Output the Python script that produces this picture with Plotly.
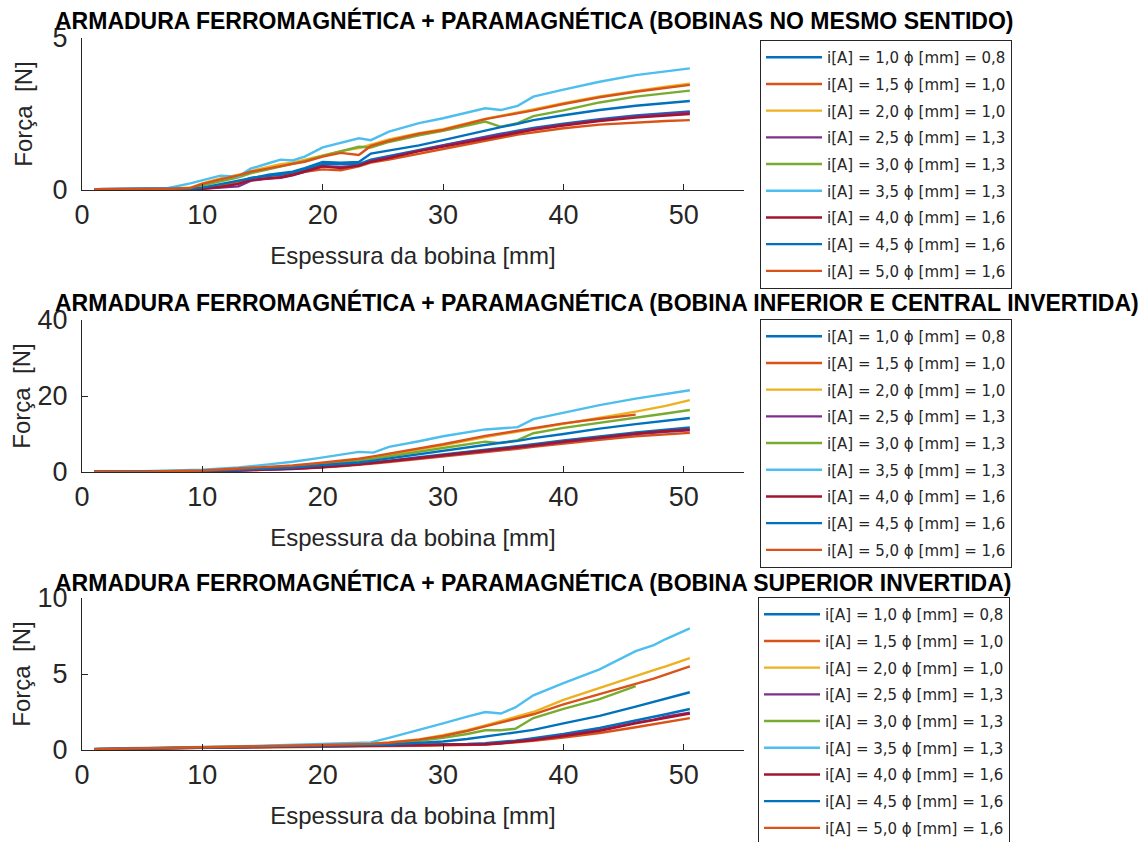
import plotly.graph_objects as go

# ---------------- data ----------------
LABELS = [
    "i[A] = 1,0 ϕ [mm] = 0,8",
    "i[A] = 1,5 ϕ [mm] = 1,0",
    "i[A] = 2,0 ϕ [mm] = 1,0",
    "i[A] = 2,5 ϕ [mm] = 1,3",
    "i[A] = 3,0 ϕ [mm] = 1,3",
    "i[A] = 3,5 ϕ [mm] = 1,3",
    "i[A] = 4,0 ϕ [mm] = 1,6",
    "i[A] = 4,5 ϕ [mm] = 1,6",
    "i[A] = 5,0 ϕ [mm] = 1,6",
]
COLORS = ["#0072BD", "#D95319", "#EDB120", "#7E2F8E", "#77AC30",
          "#4DBEEE", "#A2142F", "#0072BD", "#D95319"]

TITLES = [
    "ARMADURA FERROMAGNÉTICA + PARAMAGNÉTICA (BOBINAS NO MESMO SENTIDO)",
    "ARMADURA FERROMAGNÉTICA + PARAMAGNÉTICA (BOBINA INFERIOR E CENTRAL INVERTIDA)",
    "ARMADURA FERROMAGNÉTICA + PARAMAGNÉTICA (BOBINA SUPERIOR INVERTIDA)",
]
Y_RANGES = [[0, 5], [0, 40], [0, 10]]
Y_TICKS = [[0, 5], [0, 20, 40], [0, 5, 10]]
X_TICKS = [0, 10, 20, 30, 40, 50]

# coil thickness [mm] -- plot 1 (same direction)
X1 = [1, 4, 7, 9, 10, 11.5, 13, 14, 15.5, 16.5, 17.5, 18.5, 20, 21.5, 23, 24,
      25.5, 28, 30, 33.5, 34.8, 36.2, 37.5, 40, 43, 46, 48.5, 50.5]
F1_I10 = [0.03, 0.03, 0.03, 0.03, 0.05, 0.15, 0.25, 0.40, 0.45, 0.50, 0.55, 0.68, 0.85, 0.85,
          0.85, 1.00, 1.12, 1.30, 1.48, 1.76, 1.85, 1.95, 2.04, 2.18, 2.33, 2.45, 2.52, 2.58]
F1_I15 = [0.03, 0.03, 0.03, 0.03, 0.06, 0.15, 0.25, 0.33, 0.38, 0.42, 0.50, 0.60, 0.68, 0.65,
          0.78, 0.90, 1.00, 1.20, 1.35, 1.62, 1.72, 1.82, 1.90, 2.03, 2.15, 2.22, 2.27, 2.30]
F1_I20 = [0.03, 0.03, 0.03, 0.08, 0.22, 0.38, 0.50, 0.62, 0.75, 0.85, 0.90, 1.00, 1.15, 1.28,
          1.38, 1.50, 1.66, 1.87, 2.00, 2.34, 2.45, 2.55, 2.65, 2.86, 3.08, 3.26, 3.40, 3.50]
F1_I25 = [0.03, 0.03, 0.03, 0.03, 0.04, 0.08, 0.12, 0.30, 0.38, 0.40, 0.48, 0.60, 0.78, 0.76,
          0.80, 0.95, 1.08, 1.30, 1.46, 1.73, 1.82, 1.92, 2.01, 2.15, 2.30, 2.42, 2.50, 2.55]
F1_I30 = [0.03, 0.03, 0.03, 0.06, 0.15, 0.30, 0.42, 0.55, 0.68, 0.78, 0.85, 0.95, 1.12, 1.28,
          1.42, 1.40, 1.58, 1.80, 1.95, 2.25, 2.08, 2.20, 2.43, 2.62, 2.88, 3.07, 3.18, 3.27]
F1_I35 = [0.03, 0.03, 0.05, 0.22, 0.33, 0.47, 0.44, 0.70, 0.88, 1.00, 0.97, 1.10, 1.40, 1.56,
          1.70, 1.64, 1.92, 2.20, 2.36, 2.69, 2.63, 2.77, 3.07, 3.30, 3.56, 3.78, 3.90, 4.00]
F1_I40 = [0.03, 0.03, 0.03, 0.03, 0.04, 0.10, 0.20, 0.33, 0.38, 0.42, 0.50, 0.62, 0.78, 0.72,
          0.80, 0.93, 1.05, 1.28, 1.43, 1.70, 1.80, 1.90, 1.98, 2.12, 2.27, 2.38, 2.45, 2.50]
F1_I45 = [0.03, 0.03, 0.03, 0.04, 0.08, 0.20, 0.30, 0.40, 0.50, 0.55, 0.60, 0.72, 0.92, 0.90,
          0.92, 1.20, 1.30, 1.47, 1.64, 1.97, 2.07, 2.18, 2.30, 2.46, 2.63, 2.77, 2.86, 2.93]
F1_I50 = [0.03, 0.03, 0.03, 0.06, 0.20, 0.35, 0.48, 0.60, 0.72, 0.80, 0.86, 0.93, 1.10, 1.22,
          1.15, 1.45, 1.62, 1.85, 1.98, 2.33, 2.42, 2.52, 2.62, 2.83, 3.05, 3.23, 3.37, 3.46]

# plot 2 (lower and central coil reversed)
X2 = [1, 5, 10, 13, 15.5, 17.5, 19.5, 21.5, 23, 24.2, 25.5, 28, 30, 33.5, 34.8, 36.2,
      37.5, 40, 43, 46, 48.5, 50.5]
F2_I10 = [0.05, 0.1, 0.2, 0.5, 0.8, 1.0, 1.4, 1.8, 2.2, 2.6, 3.0, 3.9, 4.6, 5.9, 6.3, 6.8,
          7.3, 8.3, 9.4, 10.4, 11.1, 11.7]
F2_I15 = [0.05, 0.1, 0.2, 0.4, 0.6, 0.8, 1.1, 1.5, 1.8, 2.2, 2.6, 3.4, 4.0, 5.2, 5.6, 6.1,
          6.6, 7.5, 8.5, 9.4, 9.9, 10.3]
F2_I20 = [0.05, 0.1, 0.4, 0.8, 1.2, 1.6, 2.1, 2.7, 3.3, 3.9, 4.5, 6.0, 7.0, 9.2, 9.9, 10.6,
          11.2, 12.6, 14.2, 15.9, 17.4, 18.9]
F2_I25 = [0.05, 0.1, 0.15, 0.4, 0.6, 0.8, 1.2, 1.6, 2.0, 2.4, 2.8, 3.6, 4.3, 5.5, 5.9, 6.4,
          6.9, 7.9, 9.0, 10.0, 10.6, 11.0]
F2_I30 = [0.05, 0.1, 0.3, 0.7, 1.1, 1.5, 2.0, 2.5, 3.0, 3.5, 4.1, 5.4, 6.3, 8.0, 7.6, 8.4,
          10.2, 11.6, 13.0, 14.3, 15.4, 16.3]
F2_I35 = [0.1, 0.2, 0.6, 1.2, 2.0, 2.7, 3.6, 4.5, 5.3, 5.1, 6.6, 8.1, 9.4, 11.2, 11.4, 11.8,
          13.9, 15.6, 17.6, 19.3, 20.5, 21.5]
F2_I40 = [0.05, 0.1, 0.15, 0.4, 0.6, 0.9, 1.2, 1.6, 2.0, 2.4, 2.9, 3.7, 4.4, 5.6, 6.0, 6.5,
          7.0, 8.0, 9.1, 10.1, 10.8, 11.2]
F2_I45 = [0.05, 0.1, 0.3, 0.6, 0.9, 1.2, 1.7, 2.1, 2.5, 3.0, 3.6, 4.7, 5.5, 7.2, 7.7, 8.2,
          8.9, 10.0, 11.4, 12.6, 13.5, 14.2]
F2_I50 = [0.05, 0.1, 0.4, 0.9, 1.3, 1.7, 2.3, 2.9, 3.5, 4.1, 4.8, 6.3, 7.3, 9.5, 10.2, 10.9,
          11.5, 12.8, 14.0, 15.1, None, None]

# plot 3 (upper coil reversed)
X3 = [1, 5, 10, 15, 20, 24, 25.5, 28, 30, 32, 33.5, 34.8, 36, 37.5, 40, 43, 46, 47.5, 48.5, 50.5]
F3_I10 = [0.06, 0.1, 0.15, 0.2, 0.25, 0.28, 0.3, 0.32, 0.36, 0.4, 0.45, 0.52, 0.62, 0.78,
          1.05, 1.45, 1.92, 2.15, 2.35, 2.7]
F3_I15 = [0.06, 0.1, 0.14, 0.18, 0.22, 0.25, 0.26, 0.28, 0.3, 0.33, 0.36, 0.42, 0.5, 0.6,
          0.82, 1.12, 1.5, 1.7, 1.85, 2.1]
F3_I20 = [0.06, 0.1, 0.18, 0.25, 0.32, 0.42, 0.5, 0.7, 0.98, 1.3, 1.62, 1.9, 2.15, 2.5,
          3.3, 4.1, 4.9, 5.25, 5.5, 6.05]
F3_I25 = [0.06, 0.1, 0.14, 0.19, 0.24, 0.27, 0.28, 0.3, 0.32, 0.35, 0.38, 0.45, 0.55, 0.68,
          0.95, 1.3, 1.8, 2.0, 2.2, 2.45]
F3_I30 = [0.06, 0.1, 0.16, 0.22, 0.3, 0.38, 0.45, 0.6, 0.8, 1.05, 1.3, 1.3, 1.4, 2.1,
          2.7, 3.35, 4.2, None, None, None]
F3_I35 = [0.08, 0.12, 0.2, 0.28, 0.38, 0.5, 0.8, 1.3, 1.75, 2.2, 2.5, 2.4, 2.8, 3.6,
          4.4, 5.3, 6.5, 6.9, 7.3, 8.0]
F3_I40 = [0.06, 0.1, 0.14, 0.19, 0.24, 0.27, 0.28, 0.3, 0.32, 0.35, 0.38, 0.44, 0.53, 0.66,
          0.92, 1.27, 1.75, 1.97, 2.15, 2.4]
F3_I45 = [0.06, 0.1, 0.16, 0.22, 0.28, 0.33, 0.36, 0.45, 0.56, 0.72, 0.88, 1.02, 1.15, 1.32,
          1.75, 2.25, 2.85, 3.15, 3.4, 3.8]
F3_I50 = [0.06, 0.1, 0.18, 0.25, 0.32, 0.4, 0.48, 0.68, 0.92, 1.25, 1.55, 1.8, 2.05, 2.35,
          3.0, 3.65, 4.35, 4.7, 4.95, 5.5]

PANELS = [
    (X1, [F1_I10, F1_I15, F1_I20, F1_I25, F1_I30, F1_I35, F1_I40, F1_I45, F1_I50]),
    (X2, [F2_I10, F2_I15, F2_I20, F2_I25, F2_I30, F2_I35, F2_I40, F2_I45, F2_I50]),
    (X3, [F3_I10, F3_I15, F3_I20, F3_I25, F3_I30, F3_I35, F3_I40, F3_I45, F3_I50]),
]

# ---------------- layout geometry (px) ----------------
W, H = 1148, 842
AX_LEFT, AX_RIGHT = 82, 744
AX_ROWS = [(38, 190), (320, 472), (598, 750)]       # (top, bottom) of each axes box
TITLE_Y = [21, 302, 582]
TITLE_X = 53
LEGEND_POS = [(760, 40), (760, 319), (758, 597)]
YTITLE_STANDOFF = [13, 0, 0]

FONT = "Liberation Sans, Arial, sans-serif"
INK = "#262626"

fig = go.Figure()

for k, (xs, series) in enumerate(PANELS):
    sfx = "" if k == 0 else str(k + 1)
    for j, ys in enumerate(series):
        fig.add_trace(go.Scatter(
            x=xs, y=ys, mode="lines", name=LABELS[j],
            line=dict(color=COLORS[j], width=2.4),
            xaxis="x" + sfx, yaxis="y" + sfx,
            legend="legend" + sfx,
            legendgroup=f"p{k}s{j}",
            connectgaps=False,
        ))

layout = dict(
    width=W, height=H,
    margin=dict(l=0, r=0, t=0, b=0, autoexpand=False),
    paper_bgcolor="white", plot_bgcolor="white",
    showlegend=True,
)

for k in range(3):
    sfx = "" if k == 0 else str(k + 1)
    top, bottom = AX_ROWS[k]
    layout["xaxis" + sfx] = dict(
        domain=[AX_LEFT / W, AX_RIGHT / W], range=[0, 55],
        tickvals=X_TICKS, ticks="inside", ticklen=6, tickwidth=1, tickcolor=INK,
        showline=True, linecolor=INK, linewidth=1.2,
        showgrid=False, zeroline=False, anchor="y" + sfx,
        tickfont=dict(family=FONT, size=27, color=INK),
        ticklabelstandoff=0,
        title=dict(text="Espessura da bobina [mm]", standoff=18,
                   font=dict(family=FONT, size=24, color=INK)),
    )
    layout["yaxis" + sfx] = dict(
        domain=[1 - bottom / H, 1 - top / H], range=Y_RANGES[k],
        tickvals=Y_TICKS[k], ticks="inside", ticklen=6, tickwidth=1, tickcolor=INK,
        showline=True, linecolor=INK, linewidth=1.2,
        showgrid=False, zeroline=False, anchor="x" + sfx,
        tickfont=dict(family=FONT, size=27, color=INK),
        ticklabelstandoff=8,
        title=dict(text="Força\u00a0 [N]", standoff=YTITLE_STANDOFF[k],
                   font=dict(family=FONT, size=24, color=INK)),
    )
    lx, ly = LEGEND_POS[k]
    layout["legend" + sfx] = dict(
        x=lx / W, y=1 - ly / H, xanchor="left", yanchor="top",
        bgcolor="white", bordercolor=INK, borderwidth=1,
        font=dict(family="DejaVu Sans", size=15, color=INK),
        traceorder="grouped", tracegroupgap=4.2, itemwidth=56,
    )

layout["annotations"] = [
    dict(text=f"<b>{TITLES[k]}</b>", xref="paper", yref="paper",
         x=TITLE_X / W, y=1 - TITLE_Y[k] / H, xanchor="left", yanchor="middle",
         showarrow=False, font=dict(family=FONT, size=23.0, color="black"))
    for k in range(3)
]

fig.update_layout(**layout)
fig.write_html("out.html")
